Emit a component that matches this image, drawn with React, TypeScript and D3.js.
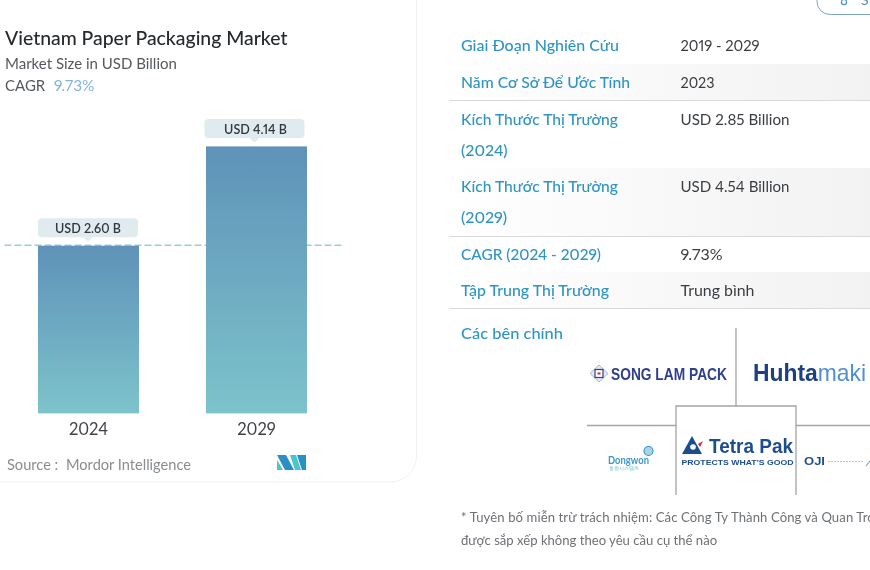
import React from "react";
import * as d3 from "d3";

const years = ["2024", "2029"];
const values = [2.6, 4.14];
const valueLabels = ["USD 2.60 B", "USD 4.14 B"];
const tableLabels = [
  ["Giai Đoạn Nghiên Cứu"],
  ["Năm Cơ Sở Để Ước Tính"],
  ["Kích Thước Thị Trường", "(2024)"],
  ["Kích Thước Thị Trường", "(2029)"],
  ["CAGR (2024 - 2029)"],
  ["Tập Trung Thị Trường"],
];
const tableValues = ["2019 - 2029", "2023", "USD 2.85 Billion", "USD 4.54 Billion", "9.73%", "Trung bình"];
const rowEdges = [28, 64, 100, 168, 236, 272, 308];
const baselineNudge = [-1, 0, 1, 0, 0, 0];
const labelShift = [-0.5, -2];
const labelWidths = [158, 169, 157, 157, 140, 148];
const valueWidths = [79, 34, 109, 109, 42, 74];

const FONT = "Lato, 'Noto Sans', sans-serif";
const xc = d3.scalePoint<string>().domain(years).range([88.5, 256.5]);
const y = d3.scaleLinear().domain([0, 4.14]).range([413, 146]);
const barW = 101;

export default function App() {
  return (
    <svg width={870} height={570} viewBox="0 0 870 570" fontFamily={FONT}
      style={{ position: "absolute", left: 0, top: 0, background: "#fff", fontVariantNumeric: "proportional-nums" }}>
      <defs>
        <linearGradient id="bar" gradientUnits="userSpaceOnUse" x1="0" x2="0" y1={y(2.6)} y2={y(0)}>
          <stop offset="0" stopColor="#5f92b8" />
          <stop offset="1" stopColor="#7cc3cb" />
        </linearGradient>
        <linearGradient id="bar2" gradientUnits="userSpaceOnUse" x1="0" x2="0" y1={y(4.14)} y2={y(0)}>
          <stop offset="0" stopColor="#5f92b8" />
          <stop offset="1" stopColor="#7cc3cb" />
        </linearGradient>
        <linearGradient id="row" x1="0" x2="1" y1="0" y2="0">
          <stop offset="0" stopColor="#ffffff" />
          <stop offset="0.3" stopColor="#fbfbfb" />
          <stop offset="1" stopColor="#f2f2f2" />
        </linearGradient>
        <filter id="soft" x="0" y="0" width="100%" height="100%" filterUnits="userSpaceOnUse" primitiveUnits="userSpaceOnUse">
          <feGaussianBlur stdDeviation="0.3" />
        </filter>
        <filter id="softer" x="-5%" y="-5%" width="110%" height="110%">
          <feGaussianBlur stdDeviation="0.45" />
        </filter>
      </defs>

      <g filter="url(#soft)">
        {/* card */}
        <rect x={0} y={0} width={870} height={570} fill="#fff" />
        <path d="M416.5 0 V456 a26 26 0 0 1 -26 26 H0" fill="none" stroke="#eff1f3" strokeWidth={1} />

        <text x={5} y={44.5} fontSize={19.4} fontWeight={500} fill="#26292d">Vietnam Paper Packaging Market</text>
        <text x={5} y={68.5} fontSize={15} fill="#55595d">Market Size in USD Billion</text>
        <text x={5} y={90.5} fontSize={15} fill="#55595d">CAGR</text>
        <text x={54} y={90.5} fontSize={15.4} fill="#86b4d6">9.73%</text>

        {/* reference dashed level, behind the bars */}
        <line x1={4.5} x2={341.5} y1={y(2.6)} y2={y(2.6)} stroke="#9ccbdc" strokeWidth={1.5} strokeDasharray="7 3" />

        {/* bars */}
        {years.map((yr, i) => (
          <rect key={yr} x={xc(yr)! - barW / 2} y={y(values[i]) + 0.4} width={barW} height={y(0) - y(values[i])}
            fill={i === 0 ? "url(#bar)" : "url(#bar2)"} />
        ))}

        {/* value labels */}
        {years.map((yr, i) => {
          const cx = xc(yr)! + labelShift[i];
          const top = y(values[i]);
          return (
            <g key={yr + "l"}>
              <rect x={cx - 50} y={top - 27} width={100} height={19} rx={4} fill="#e0ebef" />
              <path d={`M${cx - 5} ${top - 8} L${cx} ${top - 3.5} L${cx + 5} ${top - 8} Z`} fill="#e0ebef" />
              <text x={cx + (i === 0 ? 0 : 1)} y={top - 12.5} textAnchor="middle" fontSize={12.6} fontWeight={600} fill="#33383d">{valueLabels[i]}</text>
              <text x={xc(yr)!} y={434.5} textAnchor="middle" fontSize={16.5} fill="#3f4347">{yr}</text>
            </g>
          );
        })}

        <text x={7} y={470} fontSize={14.6} fill="#8a8d90">Source :</text>
        <text x={66} y={470} fontSize={14.6} fill="#8a8d90">Mordor Intelligence</text>

        {/* publisher mark */}
        <g>
          <path d="M277 455 H286 L294 470 H285 Z" fill="#2a8fc4" />
          <path d="M277 460 L283 470 H277 Z" fill="#46c6d0" />
          <path d="M290 455 H296 L301 470 H295 Z" fill="#46c6d0" />
          <path d="M297 455 H306 V470 H302 Z" fill="#2a8fc4" />
        </g>

        {/* button at top right */}
        <path d="M870 14.5 H830 a13 13 0 0 1 -13 -13 V0" fill="none" stroke="#7fa6bf" strokeWidth={1} />
        <circle cx={844} cy={2} r={2.6} fill="none" stroke="#4e93b8" strokeWidth={1.2} />
        <text x={861} y={5} fontSize={14} fill="#4e93b8">S</text>

        {/* table */}
        {tableLabels.map((lab, i) => (
          <g key={i}>
            {i % 2 === 1 && <rect x={449} y={rowEdges[i]} width={421} height={rowEdges[i + 1] - rowEdges[i]} fill="url(#row)" />}
            <line x1={449} x2={870} y1={rowEdges[i + 1] + 0.5} y2={rowEdges[i + 1] + 0.5} stroke="#d9d9d9" strokeWidth={1} />
            {lab.map((t, j) => (
              <text key={j} x={461} y={rowEdges[i] + 23.5 + baselineNudge[i] + j * 31} fontSize={16} fontWeight={500} fill="#2f95c3"
                {...(j === 0 ? { textLength: labelWidths[i], lengthAdjust: "spacingAndGlyphs" } : {})}>{t}</text>
            ))}
            <text x={680.5} y={rowEdges[i] + 23.5 + baselineNudge[i]} fontSize={16} fill="#3a3e42"
              textLength={valueWidths[i]} lengthAdjust="spacingAndGlyphs">{tableValues[i]}</text>
          </g>
        ))}
        <text x={461} y={339} fontSize={16} fontWeight={500} fill="#2f95c3" textLength={102} lengthAdjust="spacingAndGlyphs">Các bên chính</text>

        {/* players quadrant */}
        <g stroke="#a4a4a4" strokeWidth={1.3} fill="none">
          <line x1={736} x2={736} y1={328} y2={406} />
          <line x1={587} x2={676} y1={425.5} y2={425.5} />
          <line x1={796} x2={870} y1={425.5} y2={425.5} />
          <path d="M676 495 V406 H796 V495" />
        </g>

        <g filter="url(#softer)">
          {/* Song Lam Pack */}
          <path d="M599 365 L608 373.5 L599 382 L590 373.5 Z" fill="#e6e9f2" stroke="#a9b2cf" />
          <rect x={595} y={369.5} width={8} height={8} fill="#fff" stroke="#2d3f8f" strokeWidth={1.2} />
          <rect x={597.5} y={372.5} width={3} height={2} fill="#d3282f" />
          <text x={611} y={379.5} fontSize={16.5} fontWeight={700} fill="#2f3f8c" textLength={116} lengthAdjust="spacingAndGlyphs" fontFamily="'Liberation Sans', sans-serif">SONG LAM PACK</text>
          {/* Huhtamaki */}
          <text x={753} y={381} fontSize={24} fontFamily="'Liberation Sans', sans-serif" textLength={113} lengthAdjust="spacingAndGlyphs">
            <tspan fontWeight={700} fill="#1d3f82">Huhta</tspan>
            <tspan fontWeight={400} fill="#4f8fd3">maki</tspan>
          </text>
          {/* Dongwon */}
          <text x={608} y={464} fontSize={11.5} fontWeight={700} fill="#3d97c8" textLength={41} lengthAdjust="spacingAndGlyphs">Dongwon</text>
          <circle cx={648.5} cy={451} r={4.5} fill="#a9d4e6" stroke="#3d97c8" strokeWidth={1.2} />
          <text x={609} y={469.5} fontSize={4.5} fill="#63c0c8">동원시스템즈</text>
          {/* Tetra Pak */}
          <path d="M682 454 L692 436 L702 454 Z" fill="#1f4e8c" />
          <circle cx={693} cy={447} r={2.8} fill="#fff" />
          <path d="M698 444 L703 441 L700 447 Z" fill="#d3282f" />
          <text x={709} y={453} fontSize={21} fontWeight={700} fill="#1f4e8c" fontFamily="'Liberation Sans', sans-serif" textLength={84} lengthAdjust="spacingAndGlyphs">Tetra Pak</text>
          <text x={681.5} y={465} fontSize={7.6} fontWeight={700} fill="#1f4e8c" fontFamily="'Liberation Sans', sans-serif" textLength={112} lengthAdjust="spacingAndGlyphs">PROTECTS WHAT'S GOOD</text>
          {/* Oji */}
          <text x={804} y={465} fontSize={10} fontWeight={700} fill="#1f4e8c" fontFamily="'Liberation Sans', sans-serif" textLength={21} lengthAdjust="spacingAndGlyphs">OJI</text>
          <line x1={828} x2={864} y1={461.5} y2={461.5} stroke="#b9c4d6" strokeWidth={1} strokeDasharray="2 1" />
          <path d="M866 466 L870 461" stroke="#6aa6d6" strokeWidth={1.2} />
        </g>

        <text x={461} y={522} fontSize={13.1} letterSpacing={0.1} fill="#6d7175">* Tuyên bố miễn trừ trách nhiệm: Các Công Ty Thành Công và Quan Trọng</text>
        <text x={461} y={545} fontSize={13.1} fill="#6d7175">được sắp xếp không theo yêu cầu cụ thể nào</text>
      </g>
    </svg>
  );
}
